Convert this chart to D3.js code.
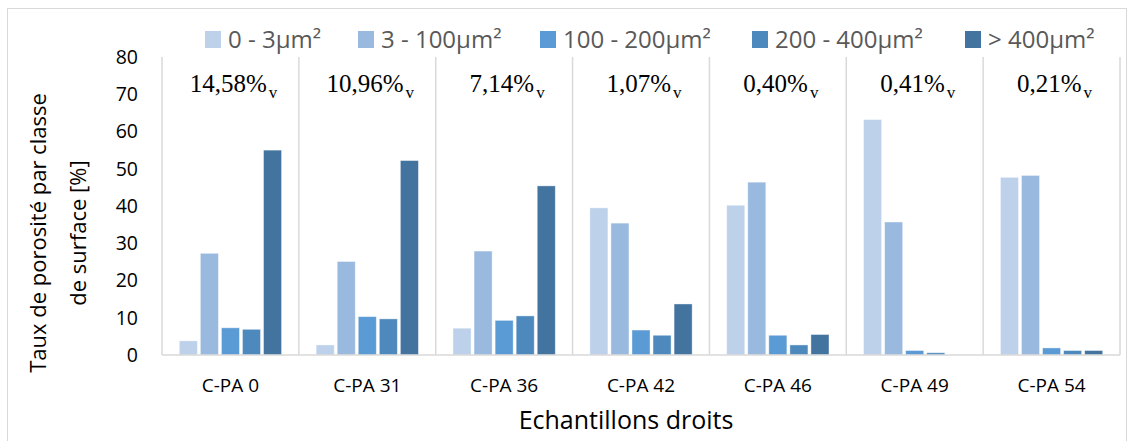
<!DOCTYPE html>
<html><head><meta charset="utf-8">
<script src="https://cdn.jsdelivr.net/npm/d3@7"></script>
<style>body{margin:0;background:#fff}svg{display:block}</style>
</head><body>
<svg id="c" width="1134" height="441"></svg>
<script>
const categories = ["C-PA 0","C-PA 31","C-PA 36","C-PA 42","C-PA 46","C-PA 49","C-PA 54"];
const seriesNames = ["0 - 3µm²","3 - 100µm²","100 - 200µm²","200 - 400µm²","> 400µm²"];
const s0_3     = [3.8, 2.7, 7.2, 39.5, 40.2, 63.2, 47.7];
const s3_100   = [27.3, 25.1, 27.9, 35.4, 46.4, 35.7, 48.2];
const s100_200 = [7.3, 10.3, 9.3, 6.7, 5.3, 1.2, 1.9];
const s200_400 = [6.9, 9.7, 10.5, 5.3, 2.7, 0.6, 1.2];
const s400     = [55.0, 52.2, 45.4, 13.7, 5.5, 0, 1.2];
const porosity = ["14,58%","10,96%","7,14%","1,07%","0,40%","0,41%","0,21%"];
const yTicks = [0,10,20,30,40,50,60,70,80];
const colors = ["#bdd1ea","#99b9df","#5b9bd5","#4e89bd","#43739f"];

const series = [s0_3, s3_100, s100_200, s200_400, s400];
const svg = d3.select("#c");
const pLeft = 162, pRight = 1120, pTop = 57, pBottom = 355;

// outer chart border
svg.append("rect").attr("x",7.5).attr("y",8.5).attr("width",1119).attr("height",445)
  .attr("fill","none").attr("stroke","#d9d9d9").attr("stroke-width",1);

const x0 = d3.scaleBand().domain(categories).range([pLeft,pRight]).paddingInner(0).paddingOuter(0);
const x1 = d3.scaleBand().domain(d3.range(5)).range([0,x0.bandwidth()]).paddingOuter(0.75).paddingInner(0);
const y = d3.scaleLinear().domain([0,80]).range([pBottom,pTop]);

// vertical separators
const seps = categories.map(c=>x0(c)).concat([pRight]);
svg.append("g").selectAll("line").data(seps).join("line")
  .attr("x1",d=>d).attr("x2",d=>d).attr("y1",pTop).attr("y2",pBottom)
  .attr("stroke","#d9d9d9").attr("stroke-width",1.5);

// bars
const g = svg.append("g");
series.forEach((vals,k)=>{
  g.append("g").selectAll("rect").data(vals).join("rect")
    .attr("x",(d,i)=>x0(categories[i])+x1(k)+1.5)
    .attr("width",x1.bandwidth()-3)
    .attr("y",d=>y(d))
    .attr("height",d=>pBottom-y(d))
    .attr("fill",colors[k])
    .attr("stroke","#ffffff").attr("stroke-opacity",0.5).attr("stroke-width",0.8);
});

// x axis line
svg.append("line").attr("x1",pLeft).attr("x2",pRight).attr("y1",pBottom).attr("y2",pBottom)
  .attr("stroke","#d9d9d9").attr("stroke-width",1.5);

// y axis labels
const yAxis = d3.axisLeft(y).tickValues(yTicks).tickSize(0).tickPadding(0);
const ya = svg.append("g").attr("transform",`translate(138,0)`).call(yAxis);
ya.select(".domain").remove();
ya.selectAll("text").attr("font-family","'Open Sans', sans-serif").attr("font-size",19.5).attr("fill","#000");

// x axis labels
const xAxis = d3.axisBottom(x0).tickSize(0).tickPadding(0);
const xa = svg.append("g").attr("transform",`translate(0,378)`).call(xAxis);
xa.select(".domain").remove();
xa.selectAll("text").attr("font-family","'Open Sans', sans-serif").attr("font-size",19).attr("fill","#000");

// porosity annotations
const ann = svg.append("g").selectAll("text").data(porosity).join("text")
  .attr("x",(d,i)=>x0(categories[i])+x0.bandwidth()/2+3)
  .attr("y",92)
  .attr("text-anchor","middle")
  .attr("font-family","'Liberation Serif', serif").attr("font-size",25).attr("fill","#000");
ann.append("tspan").text(d=>d);
ann.append("tspan").text("v").attr("font-size",17).attr("dx",2).attr("dy",6);

// legend
const legX = [205, 358, 540, 752, 965];
const leg = svg.append("g");
seriesNames.forEach((n,k)=>{
  leg.append("rect").attr("x",legX[k]).attr("y",31).attr("width",16).attr("height",17).attr("fill",colors[k]);
  leg.append("text").attr("x",legX[k]+23).attr("y",39.5).attr("dy","0.36em")
    .attr("font-family","'Open Sans', sans-serif").attr("font-size",24).attr("fill","#595959").text(n);
});

// axis titles
svg.append("text").attr("x",626).attr("y",420).attr("dy","0.35em").attr("text-anchor","middle")
  .attr("font-family","'Open Sans', sans-serif").attr("font-size",25).attr("fill","#000").text("Echantillons droits");
const yt = svg.append("text").attr("transform","translate(0,233) rotate(-90)").attr("text-anchor","middle")
  .attr("font-family","'Open Sans', sans-serif").attr("font-size",22).attr("fill","#000");
yt.append("tspan").attr("x",0).attr("y",46).text("Taux de porosité par classe");
yt.append("tspan").attr("x",0).attr("y",86).text("de surface [%]");
</script>
</body></html>
